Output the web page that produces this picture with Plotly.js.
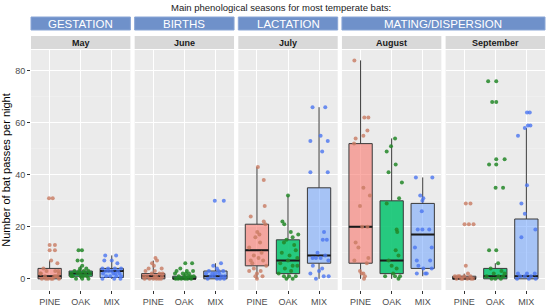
<!DOCTYPE html>
<html>
<head>
<meta charset="utf-8">
<script src="https://cdn.plot.ly/plotly-3.0.1.min.js"></script>
<style>
  html, body { margin: 0; padding: 0; background: #fff; }
  #chart { width: 550px; height: 307px; }
</style>
</head>
<body>
<div id="chart"></div>
<script>
var months = ['May', 'June', 'July', 'August', 'September'];
var habitats = ['PINE', 'OAK', 'MIX'];
var seasons = ['GESTATION', 'BIRTHS', 'LACTATION', 'MATING/DISPERSION'];
var seasonFirst = [0, 1, 2, 3];
var seasonLast = [0, 1, 2, 4];

// box stats per habitat (PINE, OAK, MIX): [q1, median, q3, lower whisker, upper whisker]
var mayStats = [[0, 1, 4, 0, 7], [1, 2, 3, 0, 5], [0.5, 3, 4, 0, 9]];
var juneStats = [[0, 1, 2, 0, 7], [0, 0, 1, 0, 2], [0, 1, 3, 0, 6]];
var julyStats = [[5, 11, 21, 0, 43], [2, 7, 15, 0, 32], [6, 9, 35, 0, 66]];
var augStats = [[6, 20, 52, 0, 84], [2, 7, 30, 0, 54], [4, 17, 29, 1, 39]];
var sepStats = [[0, 0, 1, 0, 2], [0, 1, 4, 0, 6], [0, 1, 23, 0, 58]];

// jittered observations: [passes per night, horizontal jitter]
var mayPine = [[31,-0.02],[31,0.1],[13,0.0],[13,0.17],[11,0.0],[11,0.17],[7,0.05],[6,0.25],[4,-0.2],[3,0.28],[3,-0.1],[2,0.3],[2,-0.3],[1,0.15],[1,-0.15],[1,0.2],[0,-0.25],[0,0.05],[0,0.3],[0,-0.05],[1,0.25],[2,-0.28],[0,0.1],[0,-0.12],[3,0.18]];
var mayOak = [[11,-0.07],[11,0.04],[7,-0.1],[7,0.04],[5,0.05],[4,0.18],[4,-0.02],[3,0.25],[3,-0.2],[3,0.1],[2,-0.3],[2,0.15],[2,0.3],[2,-0.1],[1,0.0],[1,-0.25],[1,0.2],[1,0.08],[0,-0.15],[0,0.25],[0,0.05],[1,-0.3],[2,0.0],[3,-0.05]];
var mayMix = [[9,-0.21],[9,0.14],[7,-0.24],[7,0.0],[6,0.18],[4,-0.3],[4,0.1],[4,0.3],[3,-0.1],[3,0.2],[3,-0.2],[2,0.05],[2,-0.28],[2,0.25],[1,-0.05],[1,0.15],[1,-0.18],[0,0.08],[0,-0.3],[0,0.28],[1,0.3],[3,0.0],[4,-0.12],[2,0.12]];

var junePine = [[8,0.07],[7,0.12],[6,-0.04],[5,0.02],[4,0.27],[4,-0.15],[3,0.05],[3,-0.25],[2,0.2],[2,-0.05],[2,0.3],[1,-0.2],[1,0.1],[1,0.28],[1,-0.3],[0,0.0],[0,-0.12],[0,0.18],[0,0.25],[0,-0.28],[1,0.05],[0,0.1]];
var juneOak = [[6,0.03],[6,0.25],[4,-0.13],[3,0.08],[3,0.28],[3,-0.25],[2,0.15],[2,-0.05],[2,-0.3],[1,0.0],[1,0.2],[1,-0.18],[1,0.3],[0,-0.1],[0,0.1],[0,-0.28],[0,0.22],[0,0.02],[0,-0.2],[1,0.12],[2,0.05]];
var juneMix = [[30,-0.02],[30,0.27],[6,0.18],[5,-0.07],[4,0.05],[3,-0.21],[3,0.1],[3,0.25],[2,-0.1],[2,0.0],[2,-0.3],[1,0.2],[1,-0.15],[1,0.3],[0,0.05],[0,-0.25],[0,0.15],[1,-0.05],[0,0.28],[2,0.12]];

var julyPine = [[43,0.03],[38,0.22],[28,0.25],[24,-0.2],[22,0.22],[21,0.27],[18,0.01],[17,0.08],[16,-0.05],[14,0.1],[12,-0.25],[10,0.15],[9,-0.1],[8,0.05],[7,-0.2],[7,0.2],[6,-0.15],[5,0.3],[4,-0.1],[3,-0.25],[3,0.12],[2,0.0],[1,-0.05],[1,0.18],[0,0.0]];
var julyOak = [[32,0.0],[22,-0.18],[21,-0.12],[18,0.09],[17,0.33],[16,0.15],[15,-0.05],[14,-0.13],[13,0.2],[11,0.25],[10,-0.2],[9,0.05],[8,0.3],[7,0.0],[6,-0.25],[5,0.15],[5,0.3],[4,-0.1],[3,0.1],[2,-0.3],[1,-0.13],[1,0.04],[1,0.25],[0,-0.05],[0,0.15]];
var julyMix = [[66,-0.21],[66,0.2],[55,0.05],[53,-0.28],[53,0.28],[49,0.1],[41,-0.28],[41,0.28],[18,0.16],[15,0.12],[15,0.25],[10,-0.05],[9,0.2],[8,-0.21],[8,-0.1],[8,0.05],[7,0.3],[5,-0.2],[4,0.1],[3,0.0],[2,-0.28],[1,0.15],[1,0.31],[0,-0.1]];

var augPine = [[84,-0.2],[62,0.12],[62,0.25],[57,0.22],[54,-0.16],[55,0.09],[52,-0.21],[35,0.09],[32,0.3],[28,-0.02],[20,0.05],[20,0.22],[14,-0.16],[12,-0.07],[8,0.25],[7,-0.2],[6,0.2],[3,-0.02],[2,0.09],[1,0.14],[0,0.11],[2,0.03]];
var augOak = [[54,0.11],[51,-0.02],[49,-0.16],[44,0.13],[41,-0.1],[37,0.33],[31,0.24],[29,-0.16],[19,0.16],[18,0.18],[11,0.13],[9,0.22],[7,-0.1],[5,0.0],[4,0.16],[1,-0.21],[1,0.11],[0,0.22],[1,0.27],[2,0.05]];
var augMix = [[39,-0.22],[39,0.31],[32,-0.08],[31,0.02],[30,-0.01],[26,-0.03],[19,-0.16],[19,-0.01],[19,0.21],[12,-0.25],[12,0.29],[7,-0.19],[7,0.24],[5,-0.14],[4,0.02],[4,0.29],[2,0.13],[2,-0.19],[2,0.08]];

var sepPine = [[29,0.05],[29,0.2],[21,0.01],[21,0.15],[21,0.3],[5,0.05],[1,-0.3],[1,-0.15],[1,0.0],[1,0.2],[0,-0.25],[0,-0.1],[0,0.1],[0,0.28],[0,-0.05],[2,0.12],[0,0.22],[1,-0.2]];
var sepOak = [[76,-0.23],[76,0.03],[68,-0.1],[68,0.03],[46,0.03],[46,0.3],[44,-0.2],[44,0.03],[35,0.01],[35,0.25],[11,-0.2],[11,0.03],[6,0.09],[4,-0.15],[3,0.2],[2,-0.05],[2,0.3],[1,0.1],[1,-0.28],[0,0.0],[0,0.18],[0,-0.12],[1,0.25]];
var sepMix = [[64,0.02],[64,0.11],[58,-0.05],[59,0.05],[59,0.13],[55,-0.27],[36,0.02],[29,-0.16],[25,-0.05],[16,-0.16],[19,0.29],[2,-0.27],[2,0.02],[2,0.27],[1,-0.2],[1,-0.05],[1,0.15],[0,0.3],[0,-0.3],[0,0.08]];

var statsByMonth = [mayStats, juneStats, julyStats, augStats, sepStats];
var pointsByMonth = [
  [mayPine, mayOak, mayMix],
  [junePine, juneOak, juneMix],
  [julyPine, julyOak, julyMix],
  [augPine, augOak, augMix],
  [sepPine, sepOak, sepMix]
];

var boxFill = ['rgba(248,118,109,0.6)', 'rgba(10,196,112,0.88)', 'rgba(97,156,255,0.5)'];
var pointColor = ['rgba(200,122,98,0.8)', 'rgba(35,135,40,0.85)', 'rgba(75,118,240,0.8)'];

// panel geometry (fractions of the plotting area)
var plotW = 514;
var gap = 4.25;
var panelW = (plotW - 4 * gap) / 5;
function dom(i) {
  return [i * (panelW + gap) / plotW, (i * (panelW + gap) + panelW) / plotW];
}

var data = [];
var layout = {
  width: 550,
  height: 307,
  margin: {l: 31, r: 5, t: 50, b: 17},
  paper_bgcolor: '#FFFFFF',
  plot_bgcolor: '#EBEBEB',
  font: {family: 'Liberation Sans, Arial, sans-serif', size: 9, color: '#4D4D4D'},
  showlegend: false,
  hovermode: false,
  shapes: [],
  annotations: []
};

months.forEach(function (month, m) {
  var s = m === 0 ? '' : String(m + 1);
  var xa = 'x' + s, ya = 'y' + s;

  habitats.forEach(function (hab, h) {
    var st = statsByMonth[m][h];
    data.push({
      type: 'box',
      x: [h],
      q1: [st[0]], median: [st[1]], q3: [st[2]],
      lowerfence: [st[3]], upperfence: [st[4]],
      width: 0.75,
      whiskerwidth: 0,
      boxpoints: false,
      fillcolor: boxFill[h],
      line: {color: '#3A3A3A', width: 1},
      xaxis: xa, yaxis: ya,
      hoverinfo: 'skip'
    });
    // thicker median like ggplot
    data.push({
      type: 'scatter', mode: 'lines',
      x: [h - 0.375, h + 0.375], y: [st[1], st[1]],
      line: {color: '#1A1A1A', width: 2},
      xaxis: xa, yaxis: ya, hoverinfo: 'skip'
    });
  });

  habitats.forEach(function (hab, h) {
    var pts = pointsByMonth[m][h];
    data.push({
      type: 'scatter', mode: 'markers',
      x: pts.map(function (p) { return h + p[1]; }),
      y: pts.map(function (p) { return p[0]; }),
      marker: {size: 4, color: pointColor[h]},
      xaxis: xa, yaxis: ya, hoverinfo: 'skip'
    });
  });

  layout['xaxis' + s] = {
    domain: dom(m),
    anchor: ya,
    range: [-0.6, 2.6],
    tickvals: [0, 1, 2],
    ticktext: habitats,
    showgrid: true, gridcolor: '#FFFFFF', gridwidth: 1,
    zeroline: false,
    ticks: 'outside', ticklen: 3, tickcolor: '#333333',
    tickfont: {size: 9, color: '#4D4D4D'},
    fixedrange: true
  };
  layout['yaxis' + s] = {
    domain: [0, 1],
    anchor: xa,
    range: [-4.3, 88],
    tickvals: [0, 20, 40, 60, 80],
    showgrid: true, gridcolor: '#FFFFFF', gridwidth: 1,
    minor: {tickvals: [10, 30, 50, 70], showgrid: true, gridcolor: '#F4F4F4', gridwidth: 0.5},
    zeroline: false,
    showticklabels: m === 0,
    ticks: m === 0 ? 'outside' : '',
    ticklen: 3, tickcolor: '#333333',
    tickfont: {size: 9, color: '#4D4D4D'},
    fixedrange: true
  };

  var d = dom(m);
  layout.shapes.push({
    type: 'rect', xref: 'paper', yref: 'paper',
    x0: d[0], x1: d[1], y0: 1.0042, y1: 1.0583,
    fillcolor: '#D9D9D9', line: {width: 0}
  });
  layout.annotations.push({
    xref: 'paper', yref: 'paper', x: (d[0] + d[1]) / 2, y: 1.031,
    text: '<b>' + month + '</b>', showarrow: false,
    font: {size: 9, color: '#1A1A1A'}, xanchor: 'center', yanchor: 'middle'
  });
});

layout.yaxis.title = {
  text: 'Number of bat passes per night',
  font: {size: 11, color: '#000000'},
  standoff: 5
};

seasons.forEach(function (name, k) {
  var x0 = dom(seasonFirst[k])[0], x1 = dom(seasonLast[k])[1];
  layout.shapes.push({
    type: 'rect', xref: 'paper', yref: 'paper',
    x0: x0, x1: x1, y0: 1.0833, y1: 1.1375,
    fillcolor: '#6F91CA', line: {color: '#8AA6D6', width: 1}
  });
  layout.annotations.push({
    xref: 'paper', yref: 'paper', x: (x0 + x1) / 2, y: 1.1104,
    text: name, showarrow: false,
    font: {size: 11.5, color: '#FFFFFF'}, xanchor: 'center', yanchor: 'middle'
  });
});

layout.annotations.push({
  xref: 'paper', yref: 'paper', x: 0.486, y: 1.175,
  text: 'Main phenological seasons for most temperate bats:',
  showarrow: false, font: {size: 9.5, color: '#1A1A1A'},
  xanchor: 'center', yanchor: 'middle'
});

Plotly.newPlot('chart', data, layout, {displayModeBar: false, staticPlot: true});
</script>
</body>
</html>
